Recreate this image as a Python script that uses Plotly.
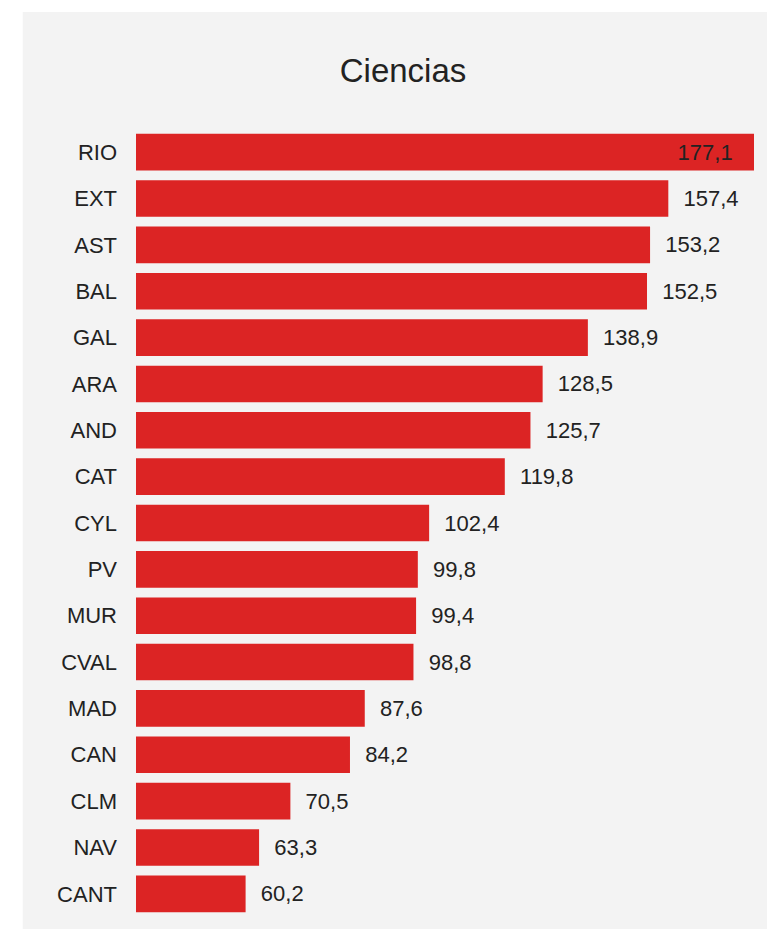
import plotly.graph_objects as go

# Data (top to bottom as shown)
regions = ['RIO', 'EXT', 'AST', 'BAL', 'GAL', 'ARA', 'AND', 'CAT', 'CYL',
           'PV', 'MUR', 'CVAL', 'MAD', 'CAN', 'CLM', 'NAV', 'CANT']
values = [177.1, 157.4, 153.2, 152.5, 138.9, 128.5, 125.7, 119.8, 102.4,
          99.8, 99.4, 98.8, 87.6, 84.2, 70.5, 63.3, 60.2]
title_text = 'Ciencias'

BAR_COLOR = '#dc2424'
PANEL = '#f3f3f3'
TEXT = '#222222'
FONT = 'Liberation Sans, Arial, sans-serif'
NBSP = '\u00a0'

# label formatting with decimal comma; the top bar carries its label inside
labels = [f'{v:.1f}'.replace('.', ',') for v in values]
positions = ['inside' if v == max(values) else 'outside' for v in values]
texts = [l + NBSP * 3 if p == 'inside' else NBSP * 2 + l
         for l, p in zip(labels, positions)]

fig = go.Figure(go.Bar(
    x=values,
    y=regions,
    orientation='h',
    marker=dict(color=BAR_COLOR, line=dict(width=0)),
    text=texts,
    textposition=positions,
    insidetextanchor='end',
    textangle=0,
    textfont=dict(family=FONT, size=22, color=TEXT),
    cliponaxis=False,
    hoverinfo='skip',
))

W, H = 767, 929
ML, MR, MT, MB = 136, 13, 129, 12
plot_w = W - ML - MR
plot_h = H - MT - MB

fig.update_layout(
    width=W,
    height=H,
    margin=dict(l=ML, r=MR, t=MT, b=MB, pad=0),
    paper_bgcolor='white',
    plot_bgcolor='rgba(0,0,0,0)',
    bargap=0.21,
    showlegend=False,
    font=dict(family=FONT, color=TEXT),
    title=dict(
        text=title_text,
        font=dict(family=FONT, size=33, color=TEXT),
        x=403 / W, xref='container', xanchor='center',
        y=1 - 70 / H, yref='container', yanchor='middle',
    ),
    shapes=[dict(
        type='rect', xref='paper', yref='paper', layer='below',
        x0=(22.7 - ML) / plot_w, x1=1.1,
        y0=-0.1, y1=1 + (MT - 12) / plot_h,
        fillcolor=PANEL, line=dict(width=0),
    )],
)

fig.update_xaxes(range=[35, 177.1], visible=False, fixedrange=True)
fig.update_yaxes(
    autorange='reversed',
    showgrid=False, zeroline=False, showline=False,
    ticks='', ticklabelstandoff=18,
    tickfont=dict(family=FONT, size=22, color=TEXT),
    fixedrange=True,
)

# figure fills the whole window, so drop the default page margin
fig.write_html('out.html', config={'displayModeBar': False},
               post_script="document.body.style.margin='0px';")
